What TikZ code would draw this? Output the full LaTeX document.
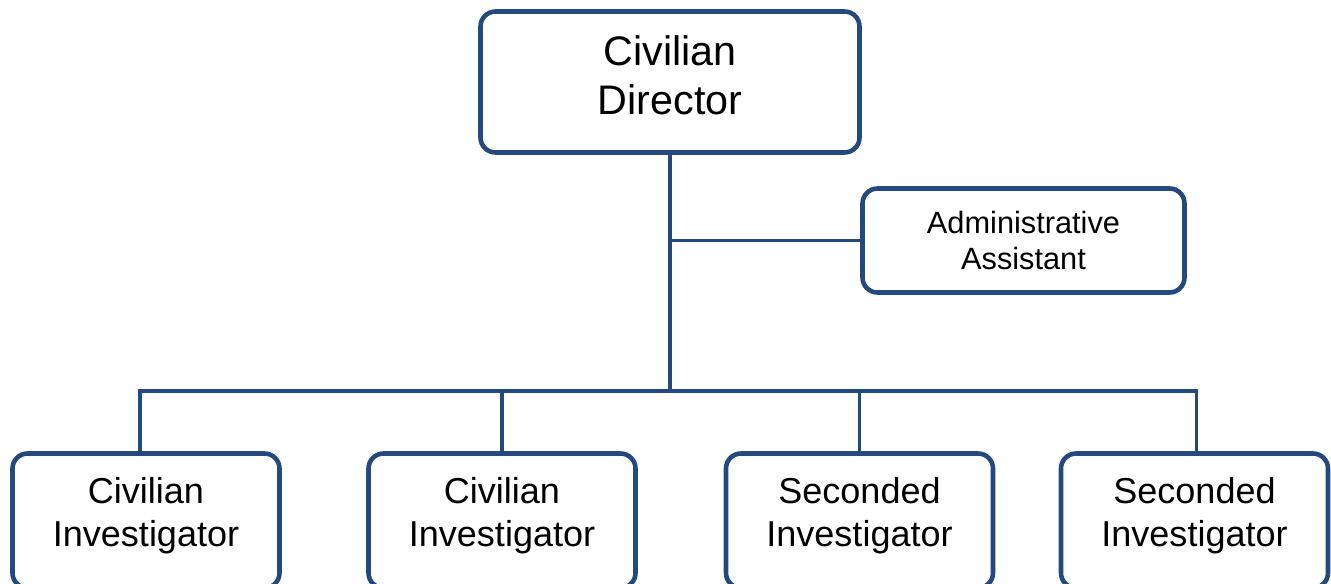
\documentclass[tikz,border=0pt]{standalone}
\usepackage{fontspec}
\setmainfont{Liberation Sans}
\definecolor{orgblue}{RGB}{36,73,126}
\begin{document}
\begin{tikzpicture}[
  orgbox/.style={draw=orgblue, line width=2.6pt, rounded corners=0.3cm, fill=white, align=center, inner sep=0pt},
  staffbox/.style={orgbox, minimum width=5.34cm, minimum height=2.69cm, text depth=0.35cm, font=\fontsize{20.5}{24.4}\selectfont},
  orgline/.style={draw=orgblue, line width=1.9pt}]
\useasboundingbox (0,0) rectangle (26.62,-11.66);

\node[orgbox, minimum width=7.58cm, minimum height=2.82cm, text depth=0.28cm, font=\fontsize{23.5}{28.3}\selectfont] (director) at (13.4,-1.64) {Civilian\\Director};

\node[orgbox, minimum width=6.44cm, minimum height=2.08cm, font=\fontsize{17.5}{21}\selectfont] (admin) at (20.47,-4.81) {Administrative\\Assistant};

\node[staffbox] (civ1) at (2.92,-10.415) {Civilian\\Investigator};
\node[staffbox] (civ2) at (10.04,-10.415) {Civilian\\Investigator};
\node[staffbox] (sec1) at (17.19,-10.415) {Seconded\\Investigator};
\node[staffbox] (sec2) at (23.89,-10.415) {Seconded\\Investigator};

\coordinate (bus) at (13.4,-7.82);
\draw[orgline] (director.south) -- (bus);
\draw[orgline] (admin.west) -- (admin.west -| director.south);
\draw[orgline] ([xshift=-0.12cm]civ1.north) |- (bus) -| ([xshift=0.04cm]sec2.north);
\draw[orgline] (civ2.north) -- (civ2.north |- bus);
\draw[orgline] (sec1.north) -- (sec1.north |- bus);
\end{tikzpicture}
\end{document}
